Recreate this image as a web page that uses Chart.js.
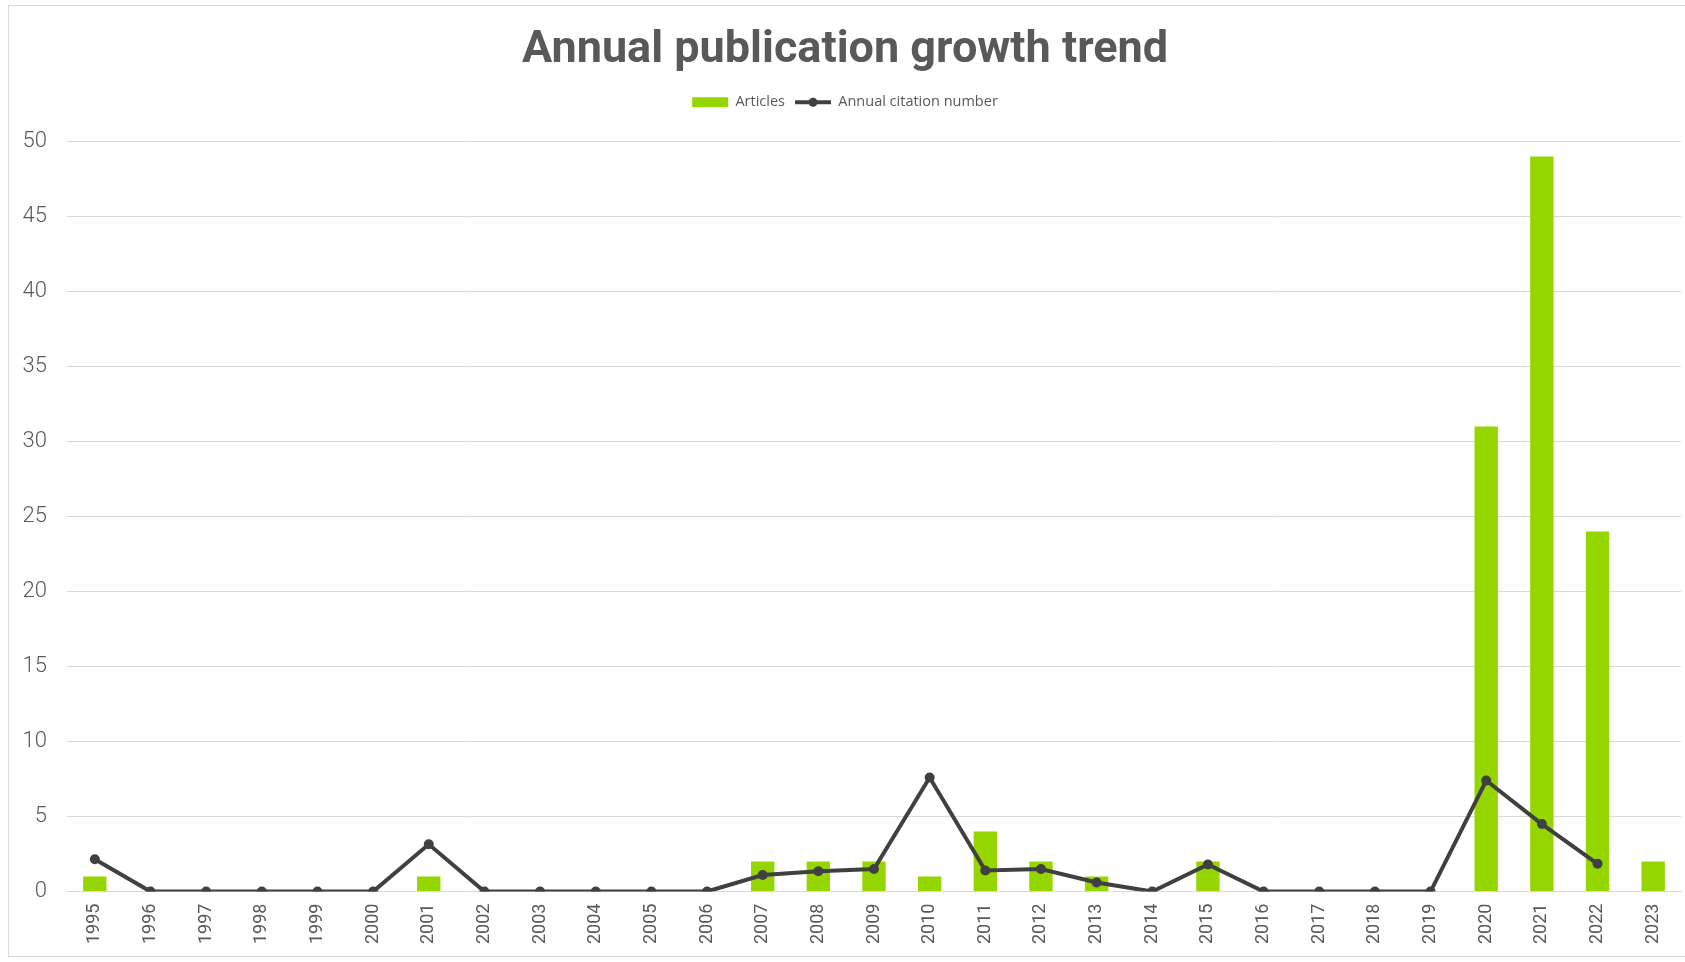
<!DOCTYPE html>
<html>
<head>
<meta charset="utf-8">
<script src="https://cdn.jsdelivr.net/npm/chart.js@4/dist/chart.umd.min.js"></script>
<style>
  body { margin: 0; background: #fff; }
  #box { position: absolute; left: 8px; top: 5px; width: 1680px; height: 950px; border: 1px solid #d9d9d9; background: #fff; }
</style>
</head>
<body>
<div id="box"><canvas id="trend"></canvas></div>
<script>
// years on the x axis
var years = ["1995","1996","1997","1998","1999","2000","2001","2002","2003","2004","2005","2006","2007","2008","2009",
             "2010","2011","2012","2013","2014","2015","2016","2017","2018","2019","2020","2021","2022","2023"];
// number of articles per year (bars)
var articles = [1,0,0,0,0,0,1,0,0,0,0,0,2,2,2,1,4,2,1,0,2,0,0,0,0,31,49,24,2];
// annual citation number (line), no value for 2023
var citations = [2.15,0,0,0,0,0,3.15,0,0,0,0,0,1.1,1.35,1.5,7.6,1.4,1.5,0.6,0,1.8,0,0,0,0,7.4,4.5,1.85,null];
var yTicks = [0,5,10,15,20,25,30,35,40,45,50];

var green = "#95d600";
var dark = "#404040";
var grey = "#595959";

//draws the little dot in the middle of the line legend item
var legendDot = {
    id: "legendDot",
    afterDraw: function(chart)
    {
        var legend = chart.legend;
        if(!legend || !legend.legendHitBoxes) return;
        var ctx = chart.ctx;
        legend.legendItems.forEach(function(item, i)
        {
            if(item.pointStyle !== "line") return;
            var hb = legend.legendHitBoxes[i];
            var cx = hb.left + 18;
            var cy = hb.top + hb.height / 2;
            ctx.save();
            ctx.fillStyle = dark;
            ctx.beginPath();
            ctx.arc(cx, cy, 4.5, 0, Math.PI * 2);
            ctx.fill();
            ctx.restore();
        });
    }
};

//extra room under the legend
var legendMargin = {
    id: "legendMargin",
    beforeInit: function(chart)
    {
        var fit = chart.legend.fit;
        chart.legend.fit = function()
        {
            fit.bind(chart.legend)();
            this.height += 22;
        };
    }
};

var trendChart = new Chart(document.getElementById("trend"), {
    type: "bar",
    data: {
        labels: years,
        datasets: [
            {
                type: "bar",
                label: "Articles",
                data: articles,
                backgroundColor: green,
                barPercentage: 0.42,
                categoryPercentage: 1,
                order: 2
            },
            {
                type: "line",
                label: "Annual citation number",
                data: citations,
                borderColor: dark,
                backgroundColor: dark,
                borderWidth: 4,
                pointRadius: 5,
                pointBackgroundColor: dark,
                pointBorderWidth: 0,
                tension: 0,
                order: 1
            }
        ]
    },
    plugins: [legendDot, legendMargin],
    options: {
        responsive: true,
        maintainAspectRatio: false,
        animation: false,
        layout: { padding: { left: 0, right: 8, top: 8, bottom: 0 } },
        plugins: {
            title: {
                display: true,
                text: "Annual publication growth trend",
                color: grey,
                font: { family: "Roboto", size: 45, weight: "bold" },
                padding: { top: 10, bottom: 7 }
            },
            legend: {
                display: true,
                labels: {
                    color: grey,
                    font: { family: "Open Sans", size: 14.5 },
                    usePointStyle: true,
                    pointStyleWidth: 36,
                    boxWidth: 36,
                    boxHeight: 10,
                    padding: 10,
                    generateLabels: function(chart)
                    {
                        return chart.data.datasets.map(function(ds, i)
                        {
                            var isLine = ds.type === "line";
                            return {
                                text: ds.label,
                                fillStyle: isLine ? dark : green,
                                strokeStyle: isLine ? dark : green,
                                lineWidth: isLine ? 4 : 0,
                                pointStyle: isLine ? "line" : "rect",
                                fontColor: grey,
                                datasetIndex: i,
                                hidden: false
                            };
                        });
                    }
                }
            },
            tooltip: { enabled: false }
        },
        scales: {
            x: {
                grid: { display: false, drawTicks: false },
                border: { color: "#d9d9d9", width: 1 },
                ticks: {
                    color: grey,
                    font: { family: "Roboto", size: 18 },
                    minRotation: 90,
                    maxRotation: 90,
                    padding: 12
                }
            },
            y: {
                min: 0,
                max: 50,
                afterBuildTicks: function(axis)
                {
                    axis.ticks = yTicks.map(function(v) { return { value: v }; });
                },
                afterFit: function(axis)
                {
                    axis.width = 58;
                },
                grid: { color: "#d9d9d9", drawTicks: false },
                border: { display: false },
                ticks: {
                    color: grey,
                    font: { family: "Roboto", size: 22, weight: 300 },
                    padding: 20
                }
            }
        }
    }
});
</script>
</body>
</html>
